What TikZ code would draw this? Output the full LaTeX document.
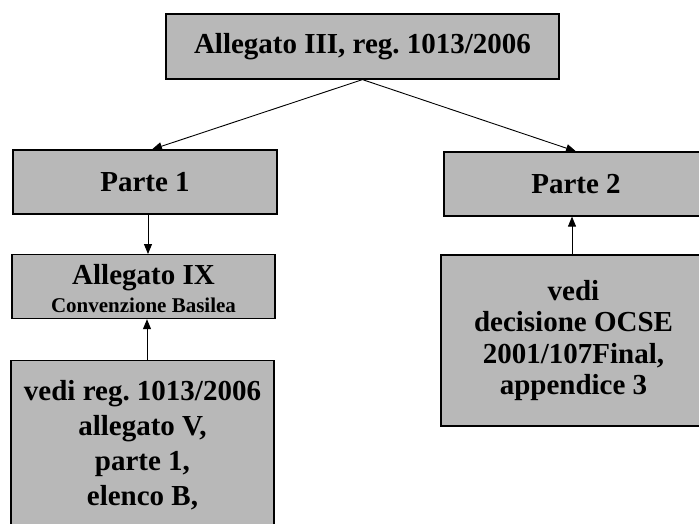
\documentclass[tikz,border=0pt]{standalone}
\usepackage{fontspec}
\setmainfont{Liberation Serif}
\usetikzlibrary{arrows.meta}

\tikzset{
  box/.style={draw=black, fill=black!28, line width=1.2pt, inner sep=0pt,
    font=\frenchspacing\bfseries\fontsize{29}{31.5}\selectfont, align=center},
  link/.style={line width=0.9pt, -{Triangle[length=10pt,width=8pt]}}
}

\begin{document}
\begin{tikzpicture}[x=1pt,y=1pt]
    \useasboundingbox (0,0) rectangle (699,-523);
    \clip (0,0) rectangle (699,-523);

    \node[box, minimum width=393pt, minimum height=65pt] (reg) at (362.5,-46.5) {Allegato III, reg. 1013/2006};

    \node[box, minimum width=264pt, minimum height=64pt] (p1) at (145,-182) {Parte 1};
    \node[box, minimum width=264pt, minimum height=64pt] (p2) at (576,-184) {Parte 2};

    \node[box, anchor=north, minimum width=263pt, inner ysep=5.75pt, text height=52.5pt, text depth=0pt,
      font=\frenchspacing\bfseries\fontsize{29}{28}\selectfont] (ix) at (143.5,-254)
      {Allegato IX\\{\fontsize{21}{22}\selectfont Convenzione Basilea}};

    \node[box, anchor=north, minimum width=263pt, inner ysep=19.5pt, text depth=60pt,
      font=\frenchspacing\bfseries\fontsize{29}{35}\selectfont] (vedi) at (142.5,-360)
      {vedi reg. 1013/2006\\allegato V,\\parte 1,\\elenco B,};

    \node[box, minimum width=265pt, minimum height=171pt] (ocse) at (573.5,-340.5)
      {vedi\\decisione OCSE\\2001/107Final,\\appendice 3};

    \draw[link] (reg.south) -- ([xshift=7pt]p1.north);
    \draw[link] (reg.south) -- (p2.north);
    \draw[link] ([xshift=3pt]p1.south) -- ([xshift=3pt]p1.south |- ix.north);
    \draw[link] ([xshift=4.5pt]vedi.north) -- ([xshift=4.5pt]vedi.north |- ix.south);
    \draw[link] ([xshift=-1.5pt]ocse.north) -- ([xshift=-1.5pt]ocse.north |- p2.south);
\end{tikzpicture}
\end{document}
